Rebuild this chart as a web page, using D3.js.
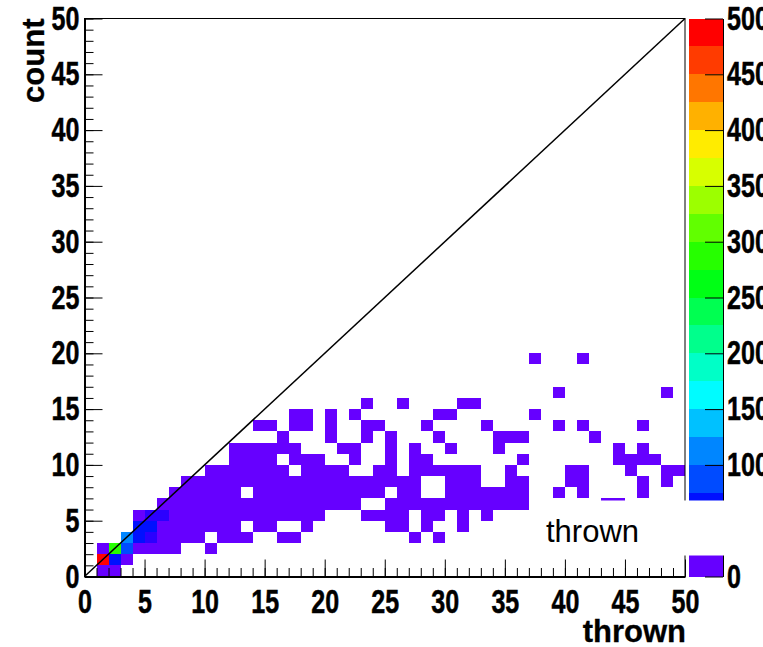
<!DOCTYPE html>
<html>
<head>
<meta charset="utf-8">
<script src="https://cdn.jsdelivr.net/npm/d3@7"></script>
<style>
  body { margin: 0; background: #fff; }
  svg { display: block; }
  .tick-label { font-family: "Liberation Sans", Arial, sans-serif; font-weight: bold; font-size: 33px; fill: #000; stroke: #000; stroke-width: 0.5px; }
  .title { font-family: "Liberation Sans", Arial, sans-serif; font-weight: bold; font-size: 31px; fill: #000; stroke: #000; stroke-width: 0.3px; }
  .pave { font-family: "Liberation Sans", Arial, sans-serif; font-size: 31px; fill: #000; }
</style>
</head>
<body>
<svg id="chart" width="763" height="647"></svg>
<script>
// ---- data: 2D histogram of counted vs thrown, unit bins 0..50 ----
const thrownDomain = [0, 50];
const countDomain = [0, 50];
const zDomain = [0, 500];
const axisTickValues = [0, 5, 10, 15, 20, 25, 30, 35, 40, 45, 50];
const zTickValues = [0, 50, 100, 150, 200, 250, 300, 350, 400, 450, 500];
const xTitle = "thrown";
const yTitle = "count";
const paveText = "thrown";

// occupied thrown bins for each count bin (index = count bin), sparse bins hold few entries
const occupiedByCount = [
  "1-2",
  "1-3",
  "1-7,10",
  "3-9,11-13,16-17,27,29",
  "4-12,14-15,18,25-26,28,31",
  "4-19,23-26,28-29,31,33",
  "6-22,25-36,43-44",
  "7-12,14-24,26-27,30-36,39,41,46",
  "8-27,30-32,35-36,40-41,46,48",
  "10-16,18-21,24-25,27-32,35,40-41,45,48-49",
  "12-15,17-19,22,25,27-28,36,44-47",
  "12-17,21-22,25,27,30,34,44,46",
  "16,20,23,25,29,34-36,42",
  "14-15,17-18,20,23-24,28,33,39,41,46",
  "17-18,20,22,29-30,37",
  "23,26,31-32",
  "39,48",
  "",
  "",
  "37,41"
];
const sparseBinEntries = 3;

// well-populated bins near the origin: [thrown, count, entries]
const denseBins = [
  [1, 1, 490],
  [2, 1, 60],
  [2, 2, 280],
  [3, 2, 90],
  [3, 3, 115],
  [4, 3, 65],
  [5, 3, 35],
  [4, 4, 60],
  [5, 4, 60],
  [5, 5, 35],
  [6, 5, 35]
];

// ---- build bin list ----
const bins = new Map();
occupiedByCount.forEach((spec, count) => {
  if (!spec) return;
  spec.split(",").forEach(part => {
    const [a, b] = part.split("-").map(Number);
    for (let t = a; t <= (b === undefined ? a : b); t++) {
      bins.set(t + ":" + count, { thrown: t, count: count, n: sparseBinEntries });
    }
  });
});
denseBins.forEach(([t, c, n]) => bins.set(t + ":" + c, { thrown: t, count: c, n: n }));

// ---- scales ----
const plot = { left: 84.5, right: 685, top: 18.5, bottom: 576.5 };
const x = d3.scaleLinear(thrownDomain, [plot.left, plot.right]);
const y = d3.scaleLinear(countDomain, [plot.bottom, plot.top]);
const z = d3.scaleLinear(zDomain, [plot.bottom, plot.top]);

// rainbow palette in 20 contour levels, violet -> red
const nLevels = 20;
const levelWidth = (zDomain[1] - zDomain[0]) / nLevels;
const levelColor = k => d3.hsl(264 * (1 - k / (nLevels - 1)), 1, 0.5).formatHex();
const colorOf = n => levelColor(Math.max(0, Math.min(nLevels - 1, Math.floor(n / levelWidth))));

const svg = d3.select("#chart");

// ---- cells ----
svg.append("g")
  .attr("shape-rendering", "crispEdges")
  .selectAll("rect")
  .data(Array.from(bins.values()))
  .join("rect")
  .attr("x", d => x(d.thrown))
  .attr("y", d => y(d.count + 1))
  .attr("width", d => x(d.thrown + 1) - x(d.thrown))
  .attr("height", d => y(d.count) - y(d.count + 1))
  .attr("fill", d => colorOf(d.n));

// ---- diagonal count = thrown ----
svg.append("line")
  .attr("x1", x(thrownDomain[0])).attr("y1", y(countDomain[0]))
  .attr("x2", x(thrownDomain[1])).attr("y2", y(countDomain[1]))
  .attr("stroke", "#000").attr("stroke-width", 1.5);

// ---- frame ----
svg.append("rect")
  .attr("x", plot.left).attr("y", plot.top)
  .attr("width", plot.right - plot.left).attr("height", plot.bottom - plot.top)
  .attr("fill", "none").attr("stroke", "#000").attr("stroke-width", 1);

const squeeze = 0.76;
const allUnits = d3.range(thrownDomain[0], thrownDomain[1] + 1);

// x axis: minor + major ticks pointing inward
svg.append("g")
  .attr("transform", `translate(0,${plot.bottom})`)
  .call(d3.axisBottom(x).tickValues(allUnits).tickSizeInner(-8.5).tickSizeOuter(0).tickFormat(""))
  .call(g => g.select(".domain").remove());
const xAxis = svg.append("g")
  .attr("transform", `translate(0,${plot.bottom})`)
  .call(d3.axisBottom(x).tickValues(axisTickValues).tickSizeInner(-17).tickSizeOuter(0).tickPadding(13));
xAxis.select(".domain").attr("stroke-width", 2);
xAxis.selectAll("text").attr("class", "tick-label").attr("font-size", null).attr("font-family", null)
  .attr("transform", `scale(${squeeze},1)`);

// y axis
svg.append("g")
  .attr("transform", `translate(${plot.left},0)`)
  .call(d3.axisLeft(y).tickValues(allUnits).tickSizeInner(-9).tickSizeOuter(0).tickFormat(""))
  .call(g => g.select(".domain").remove());
const yAxis = svg.append("g")
  .attr("transform", `translate(${plot.left},0)`)
  .call(d3.axisLeft(y).tickValues(axisTickValues).tickSizeInner(-18).tickSizeOuter(0).tickPadding(5));
yAxis.select(".domain").attr("stroke-width", 2);
yAxis.selectAll("text").attr("class", "tick-label").attr("font-size", null).attr("font-family", null)
  .attr("x", -5 / squeeze).attr("transform", `scale(${squeeze},1)`);

// ---- palette ----
const pal = { left: 689, right: 723 };
svg.append("g")
  .attr("shape-rendering", "crispEdges")
  .selectAll("rect")
  .data(d3.range(nLevels))
  .join("rect")
  .attr("x", pal.left)
  .attr("width", pal.right - pal.left)
  .attr("y", k => z((k + 1) * levelWidth))
  .attr("height", k => z(k * levelWidth) - z((k + 1) * levelWidth))
  .attr("fill", k => levelColor(k));
const zAxis = svg.append("g")
  .attr("transform", `translate(${pal.right},0)`)
  .call(d3.axisRight(z).tickValues(zTickValues).tickSizeInner(-18).tickSizeOuter(0).tickPadding(4));
zAxis.selectAll("text").attr("class", "tick-label").attr("font-size", null).attr("font-family", null)
  .attr("x", 4 / squeeze).attr("transform", `scale(${squeeze},1)`);

// ---- text pave over the lower right corner ----
svg.append("rect")
  .attr("x", 538).attr("y", 500.5).attr("width", 763 - 538).attr("height", 55)
  .attr("fill", "#fff");
svg.append("text").attr("class", "pave")
  .attr("x", 546).attr("y", 542).text(paveText);

// ---- axis titles ----
svg.append("text").attr("class", "title")
  .attr("x", 686).attr("y", 642).attr("text-anchor", "end").text(xTitle);
svg.append("text").attr("class", "title")
  .attr("transform", `translate(44,${plot.top}) rotate(-90)`)
  .attr("text-anchor", "end").text(yTitle);
</script>
</body>
</html>
